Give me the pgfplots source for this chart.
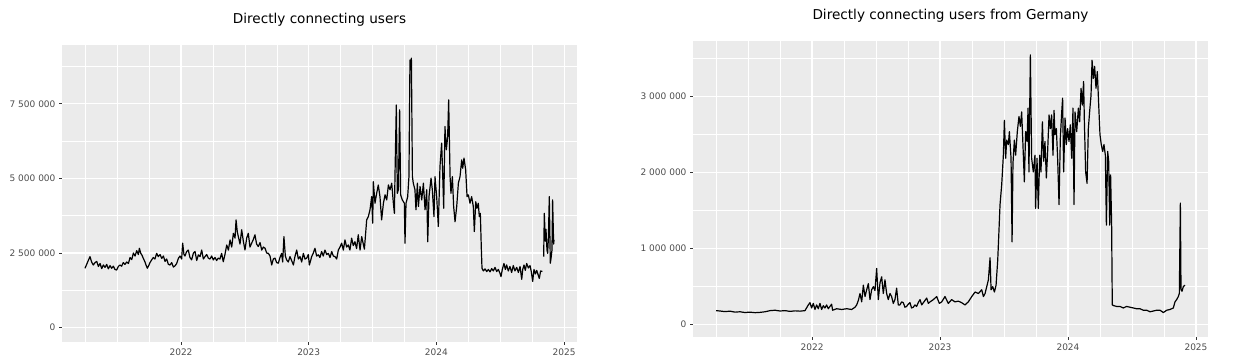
\documentclass[border=0pt]{standalone}
\usepackage{pgfplots}
\pgfplotsset{compat=1.18}
\usepackage{fontspec}
\setmainfont{DejaVu Sans}
\definecolor{ggbg}{HTML}{EBEBEB}
\definecolor{ggtext}{HTML}{4D4D4D}
\definecolor{ggtick}{HTML}{333333}
\pgfplotsset{
  ggstyle/.style={
    scale only axis,
    axis background/.style={fill=ggbg},
    axis line style={draw=none},
    tick align=outside,
    xtick pos=bottom, ytick pos=left,
    major tick length=3pt,
    minor tick length=0pt,
    tick style={color=ggtick, line width=0.6pt},
    grid=both,
    major grid style={white, line width=1.1pt},
    minor grid style={white, line width=0.55pt},
    ticklabel style={font=\fontsize{9}{10}\selectfont, text=ggtext},
    title style={font=\fontsize{13.6}{15}\selectfont, at={(0.5,1)}, anchor=base, yshift=15pt},
    xtick={2022,2023,2024,2025},
    xticklabels={2022,2023,2024,2025},
    minor xtick={2021.25,2021.5,2021.75,2022.25,2022.5,2022.75,2023.25,2023.5,2023.75,2024.25,2024.5,2024.75},
    unbounded coords=jump,
    clip=true,
  }
}
\begin{document}
\begin{tikzpicture}[x=1pt,y=1pt]
\useasboundingbox (0,0) rectangle (1253,363);
\begin{axis}[ggstyle,
  at={(62pt,21pt)}, anchor=south west,
  width=515pt, height=297pt,
  xmin=2021.068, xmax=2025.101,
  ymin=-0.48, ymax=9.47,
  ytick={0,2.5,5,7.5},
  yticklabels={0,2 500 000,5 000 000,7 500 000},
  minor ytick={1.25,3.75,6.25,8.75},
  title={Directly connecting users},
]
\addplot[black, line width=1.2pt, line join=round] coordinates {
(2021.248,1.99)(2021.261,2.12)(2021.274,2.25)(2021.287,2.38)(2021.300,2.20)(2021.313,2.10)
(2021.327,2.18)(2021.340,2.22)(2021.353,2.05)(2021.366,2.15)(2021.379,1.98)(2021.392,2.10)
(2021.405,2.02)(2021.418,2.12)(2021.431,1.97)(2021.444,2.08)(2021.457,1.99)(2021.470,2.06)
(2021.483,1.95)(2021.496,1.93)(2021.509,2.05)(2021.522,2.10)(2021.535,2.06)(2021.548,2.18)
(2021.561,2.12)(2021.575,2.20)(2021.588,2.15)(2021.601,2.35)(2021.614,2.28)(2021.627,2.50)
(2021.640,2.40)(2021.653,2.58)(2021.666,2.45)(2021.674,2.66)(2021.684,2.50)(2021.695,2.42)
(2021.705,2.32)(2021.718,2.20)(2021.726,2.10)(2021.736,1.99)(2021.747,2.08)(2021.757,2.18)
(2021.770,2.27)(2021.783,2.35)(2021.796,2.30)(2021.809,2.49)(2021.822,2.38)(2021.836,2.45)
(2021.849,2.32)(2021.862,2.40)(2021.875,2.22)(2021.888,2.30)(2021.901,2.12)(2021.914,2.10)
(2021.927,2.18)(2021.940,2.03)(2021.953,2.07)(2021.966,2.15)(2021.979,2.32)(2021.992,2.40)
(2022.005,2.30)(2022.013,2.83)(2022.023,2.45)(2022.031,2.40)(2022.044,2.55)(2022.057,2.60)
(2022.070,2.35)(2022.083,2.27)(2022.097,2.50)(2022.110,2.55)(2022.123,2.25)(2022.136,2.44)
(2022.149,2.38)(2022.162,2.60)(2022.175,2.30)(2022.188,2.38)(2022.201,2.45)(2022.214,2.33)
(2022.227,2.30)(2022.240,2.40)(2022.253,2.27)(2022.266,2.35)(2022.279,2.25)(2022.292,2.33)
(2022.305,2.30)(2022.318,2.49)(2022.331,2.21)(2022.344,2.45)(2022.358,2.77)(2022.371,2.60)
(2022.384,2.94)(2022.397,2.70)(2022.410,3.16)(2022.423,3.00)(2022.431,3.61)(2022.441,3.20)
(2022.449,3.05)(2022.462,2.80)(2022.475,3.28)(2022.488,2.90)(2022.501,2.60)(2022.514,3.00)
(2022.527,3.16)(2022.540,2.70)(2022.553,2.83)(2022.566,2.95)(2022.579,3.11)(2022.592,2.80)
(2022.605,2.72)(2022.619,2.85)(2022.632,2.60)(2022.645,2.70)(2022.658,2.66)(2022.671,2.50)
(2022.684,2.49)(2022.697,2.40)(2022.710,2.10)(2022.723,2.30)(2022.736,2.33)(2022.749,2.18)
(2022.762,2.16)(2022.775,2.35)(2022.788,2.49)(2022.796,2.20)(2022.806,3.05)(2022.817,2.40)
(2022.827,2.27)(2022.840,2.20)(2022.853,2.38)(2022.866,2.25)(2022.880,2.10)(2022.893,2.40)
(2022.906,2.60)(2022.919,2.30)(2022.932,2.38)(2022.945,2.20)(2022.958,2.49)(2022.971,2.30)
(2022.984,2.33)(2022.997,2.45)(2023.005,2.10)(2023.015,2.25)(2023.023,2.38)(2023.036,2.50)
(2023.049,2.66)(2023.062,2.40)(2023.075,2.44)(2023.088,2.35)(2023.101,2.55)(2023.114,2.40)
(2023.127,2.60)(2023.141,2.45)(2023.154,2.49)(2023.167,2.35)(2023.180,2.55)(2023.193,2.40)
(2023.206,2.38)(2023.219,2.30)(2023.232,2.60)(2023.245,2.70)(2023.258,2.83)(2023.271,2.60)
(2023.284,2.94)(2023.297,2.70)(2023.310,2.77)(2023.323,2.60)(2023.336,3.00)(2023.349,2.75)
(2023.362,2.88)(2023.375,2.65)(2023.388,3.11)(2023.402,2.60)
(2023.415,3.05)(2023.436,2.63)(2023.454,3.61)(2023.467,3.72)(2023.480,3.95)(2023.493,4.39)
(2023.501,3.50)(2023.506,4.89)(2023.519,4.17)(2023.532,4.50)(2023.545,4.78)(2023.558,4.39)
(2023.571,3.61)(2023.585,4.17)(2023.598,4.45)(2023.611,4.28)(2023.624,4.78)(2023.637,4.62)
(2023.650,4.84)(2023.663,4.17)(2023.671,3.83)(2023.676,5.17)(2023.686,7.46)(2023.694,4.50)
(2023.702,4.62)(2023.712,7.30)(2023.720,4.45)(2023.733,4.28)(2023.749,4.17)(2023.754,2.83)
(2023.762,4.17)(2023.775,4.39)(2023.785,5.06)(2023.793,8.97)(2023.799,8.64)(2023.804,9.03)
(2023.812,5.06)(2023.819,4.84)(2023.832,4.62)(2023.840,3.95)(2023.851,4.84)(2023.859,4.06)
(2023.872,4.73)(2023.885,4.28)(2023.898,4.84)(2023.911,3.95)(2023.924,4.62)(2023.932,2.88)
(2023.942,4.39)(2023.958,5.01)(2023.968,4.62)(2023.981,3.72)(2023.989,5.06)(2024.002,4.39)
(2024.015,3.39)(2024.028,5.40)(2024.041,6.18)(2024.049,5.17)(2024.057,4.00)(2024.067,6.74)
(2024.078,5.96)(2024.088,6.40)(2024.096,7.63)(2024.107,5.06)(2024.114,4.50)(2024.125,5.06)
(2024.135,4.06)(2024.146,3.55)(2024.159,4.06)(2024.172,4.84)(2024.185,5.06)(2024.198,5.62)
(2024.206,5.34)(2024.216,5.68)(2024.229,5.29)(2024.240,4.39)(2024.250,4.45)(2024.263,4.17)
(2024.276,4.39)(2024.289,4.06)(2024.297,3.22)(2024.308,4.22)(2024.318,4.00)(2024.328,4.17)
(2024.336,3.72)(2024.344,3.83)(2024.352,2.61)
(2024.357,1.99)(2024.368,1.90)(2024.381,1.97)(2024.394,1.88)(2024.407,1.95)(2024.420,1.87)
(2024.433,1.98)(2024.446,1.90)(2024.459,2.02)(2024.472,1.88)(2024.485,1.95)(2024.498,1.82)
(2024.506,1.71)(2024.516,1.95)(2024.529,2.15)(2024.540,1.95)(2024.550,2.10)(2024.563,1.90)
(2024.576,2.05)(2024.589,1.85)(2024.602,2.08)(2024.615,1.90)(2024.629,2.02)(2024.642,1.85)
(2024.655,2.05)(2024.668,1.62)(2024.676,1.95)(2024.686,2.10)(2024.696,1.92)(2024.707,2.15)
(2024.720,2.00)(2024.733,2.08)(2024.743,1.88)(2024.754,1.55)(2024.764,1.95)(2024.775,1.80)
(2024.785,1.92)(2024.796,1.78)(2024.806,1.65)(2024.816,1.90)(2024.830,1.88)
(2024.835,nan)
(2024.840,2.38)(2024.845,3.83)(2024.853,2.90)(2024.858,3.30)(2024.866,2.60)(2024.871,2.49)
(2024.877,3.00)(2024.884,4.39)(2024.892,2.16)(2024.897,2.30)(2024.905,2.60)(2024.910,4.28)
(2024.918,2.80)(2024.921,2.94)
};
\end{axis}
\begin{axis}[ggstyle,
  at={(693pt,26pt)}, anchor=south west,
  width=515pt, height=296pt,
  xmin=2021.070, xmax=2025.094,
  ymin=-0.162, ymax=3.733,
  ytick={0,1,2,3},
  yticklabels={0,1 000 000,2 000 000,3 000 000},
  minor ytick={0.5,1.5,2.5,3.5},
  title={Directly connecting users from Germany},
]
\addplot[black, line width=1.2pt, line join=round] coordinates {
(2021.250,0.185)(2021.281,0.180)(2021.320,0.172)(2021.359,0.178)(2021.398,0.165)(2021.437,0.170)
(2021.476,0.160)(2021.515,0.165)(2021.555,0.158)(2021.594,0.162)(2021.633,0.170)(2021.672,0.185)
(2021.711,0.190)(2021.750,0.180)(2021.789,0.185)(2021.828,0.175)(2021.867,0.182)(2021.906,0.178)
(2021.945,0.185)(2021.971,0.26)(2021.984,0.29)(2021.997,0.22)(2022.010,0.28)(2022.023,0.20)
(2022.036,0.26)(2022.049,0.21)(2022.062,0.28)(2022.075,0.20)(2022.088,0.25)(2022.101,0.22)
(2022.114,0.26)(2022.127,0.21)(2022.140,0.24)(2022.153,0.27)(2022.161,0.19)(2022.192,0.21)
(2022.232,0.20)(2022.271,0.21)(2022.310,0.20)(2022.336,0.23)(2022.349,0.26)(2022.362,0.32)
(2022.375,0.41)(2022.388,0.30)(2022.401,0.52)(2022.414,0.37)(2022.427,0.46)(2022.440,0.54)
(2022.453,0.33)(2022.466,0.46)(2022.479,0.50)(2022.492,0.45)(2022.505,0.74)(2022.518,0.33)
(2022.531,0.55)(2022.544,0.63)(2022.557,0.41)(2022.570,0.59)(2022.583,0.41)(2022.596,0.33)
(2022.609,0.41)(2022.622,0.37)(2022.635,0.28)(2022.648,0.33)(2022.661,0.48)(2022.674,0.26)
(2022.687,0.26)(2022.700,0.30)(2022.713,0.29)(2022.726,0.23)(2022.739,0.24)(2022.752,0.27)
(2022.765,0.29)(2022.778,0.22)(2022.791,0.23)(2022.804,0.26)(2022.817,0.24)(2022.830,0.29)
(2022.844,0.33)(2022.857,0.26)(2022.870,0.29)(2022.883,0.32)(2022.896,0.35)(2022.909,0.28)
(2022.922,0.30)(2022.948,0.33)(2022.974,0.37)(2022.995,0.28)(2023.013,0.30)(2023.039,0.37)
(2023.065,0.28)(2023.091,0.33)(2023.117,0.30)(2023.143,0.31)(2023.169,0.29)(2023.195,0.26)
(2023.221,0.30)(2023.248,0.37)(2023.274,0.43)(2023.300,0.41)(2023.326,0.46)(2023.339,0.37)
(2023.352,0.41)(2023.365,0.50)(2023.378,0.59)(2023.391,0.88)(2023.399,0.46)(2023.412,0.50)
(2023.425,0.43)(2023.438,0.52)(2023.451,0.85)(2023.461,1.25)(2023.469,1.58)(2023.482,1.84)
(2023.495,2.23)(2023.503,2.69)(2023.513,2.19)(2023.521,2.43)(2023.534,2.37)(2023.542,2.54)
(2023.555,2.19)(2023.563,1.09)(2023.570,2.12)(2023.581,2.43)(2023.591,2.23)(2023.604,2.54)
(2023.617,2.74)(2023.628,2.61)(2023.638,2.80)(2023.648,2.37)(2023.659,1.88)(2023.669,2.54)
(2023.680,2.41)(2023.688,2.85)(2023.695,2.01)(2023.706,3.55)(2023.716,2.19)(2023.729,2.01)
(2023.742,2.23)(2023.747,1.53)(2023.758,2.19)(2023.768,1.53)(2023.779,2.23)(2023.789,2.01)
(2023.800,2.67)(2023.810,2.15)(2023.820,2.41)(2023.831,1.93)(2023.841,2.28)(2023.852,2.76)
(2023.862,2.58)(2023.872,2.76)(2023.883,2.23)(2023.891,2.82)(2023.898,2.50)(2023.909,2.58)
(2023.919,2.19)(2023.930,1.58)(2023.940,2.45)(2023.951,2.80)(2023.958,2.98)(2023.966,2.01)
(2023.977,2.72)(2023.987,2.37)(2023.997,2.58)(2024.008,2.41)(2024.018,2.63)(2024.029,2.19)
(2024.039,2.85)(2024.047,1.58)(2024.055,2.80)(2024.068,2.54)(2024.081,2.85)(2024.091,2.67)
(2024.102,3.11)(2024.112,2.89)(2024.122,3.20)(2024.128,2.67)(2024.138,2.01)(2024.149,1.86)
(2024.159,2.58)(2024.169,2.80)(2024.180,3.02)(2024.188,3.48)(2024.198,3.24)(2024.208,3.40)
(2024.219,3.11)(2024.229,3.33)(2024.240,2.89)(2024.250,2.50)(2024.260,2.37)(2024.271,2.28)
(2024.281,2.37)(2024.292,2.23)(2024.300,1.31)(2024.310,2.28)(2024.318,2.15)(2024.326,1.31)
(2024.333,1.97)(2024.341,1.31)(2024.346,0.26)(2024.359,0.25)(2024.380,0.24)(2024.406,0.24)
(2024.432,0.22)(2024.458,0.24)(2024.484,0.23)(2024.510,0.22)(2024.536,0.21)(2024.562,0.21)
(2024.589,0.19)(2024.615,0.19)(2024.641,0.17)(2024.667,0.18)(2024.693,0.19)(2024.719,0.19)
(2024.745,0.16)(2024.771,0.19)(2024.797,0.20)(2024.823,0.22)(2024.836,0.30)(2024.849,0.33)
(2024.862,0.37)(2024.870,0.41)(2024.878,1.60)(2024.883,0.46)(2024.891,0.44)(2024.901,0.50)
(2024.914,0.52)
};
\end{axis}
\end{tikzpicture}
\end{document}
